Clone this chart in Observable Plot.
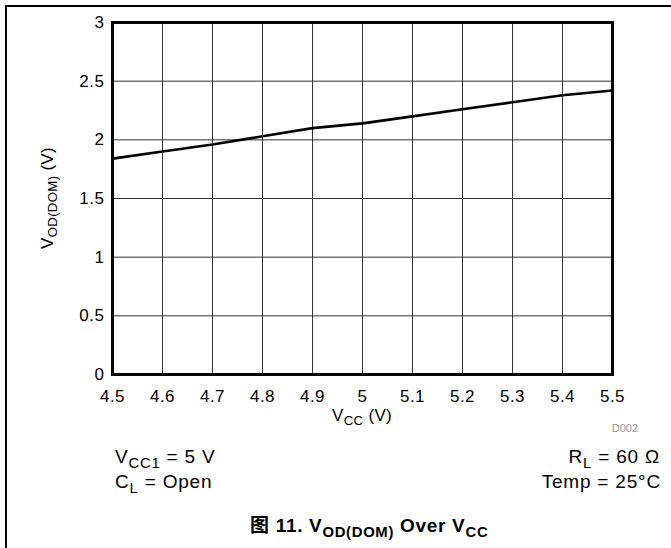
<!DOCTYPE html>
<html><head><meta charset="utf-8">
<script src="https://cdn.jsdelivr.net/npm/d3@7"></script>
<script src="https://cdn.jsdelivr.net/npm/@observablehq/plot@0.6"></script>
<style>
body{margin:0;background:#fff;font-family:"Liberation Sans",Arial,sans-serif;}
#wrap{position:relative;width:671px;height:548px;overflow:hidden;background:#fff;}
.frame{position:absolute;left:5px;top:5px;width:700px;height:600px;border-top:2px solid #000;border-left:2px solid #000;}
.t{position:absolute;line-height:1;white-space:nowrap;color:#000;}
.s{font-size:0.78em;position:relative;top:0.32em;line-height:0;}
#chart{position:absolute;left:0;top:0;}
#chart text{letter-spacing:0.5px;}
</style></head>
<body>
<div id="wrap">
  <div class="frame"></div>
  <div id="chart"></div>
  <div class="t" id="ylab" style="font-size:17px;left:47px;top:198px;transform:translate(-50%,-50%) rotate(-90deg);letter-spacing:0.3px;">V<span class="s">OD(DOM)</span> (V)</div>
  <div class="t" style="font-size:17px;left:362px;top:407px;transform:translateX(-50%);letter-spacing:0.3px;">V<span class="s">CC</span> (V)</div>
  <div class="t" style="font-size:11px;right:33px;top:423px;color:#999;">D002</div>
  <div class="t" style="font-size:19px;left:115px;top:447px;letter-spacing:0.8px;">V<span class="s">CC1</span> = 5 V</div>
  <div class="t" style="font-size:19px;left:115px;top:472px;letter-spacing:0.8px;">C<span class="s">L</span> = Open</div>
  <div class="t" style="font-size:19px;right:11px;top:447px;letter-spacing:0.8px;">R<span class="s">L</span> = 60 Ω</div>
  <div class="t" style="font-size:19px;right:10px;top:472px;letter-spacing:0.8px;">Temp = 25°C</div>
  <div class="t" style="font-size:19px;font-weight:bold;left:250px;top:516px;letter-spacing:0.7px;font-family:'Liberation Sans','Noto Sans CJK SC',sans-serif;">图 11. V<span class="s">OD(DOM)</span> Over V<span class="s">CC</span></div>
</div>
<script>
const vcc = [4.5, 4.6, 4.7, 4.8, 4.9, 5.0, 5.1, 5.2, 5.3, 5.4, 5.5];
const vod = [1.84, 1.90, 1.96, 2.03, 2.10, 2.14, 2.20, 2.26, 2.32, 2.38, 2.42];
const xTicks = [4.5, 4.6, 4.7, 4.8, 4.9, 5.0, 5.1, 5.2, 5.3, 5.4, 5.5];
const yTicks = [0, 0.5, 1, 1.5, 2, 2.5, 3];

const data = vcc.map((x, i) => ({x, y: vod[i]}));
const fmt = d => String(+(+d).toFixed(1));

const chart = Plot.plot({
  width: 671,
  height: 420,
  marginLeft: 112,
  marginRight: 59,
  marginTop: 22,
  marginBottom: 46,
  style: {fontFamily: "Liberation Sans, Arial, sans-serif", fontSize: "17px", background: "transparent", color: "#000"},
  x: {domain: [4.5, 5.5]},
  y: {domain: [0, 3]},
  marks: [
    Plot.ruleX(xTicks, {stroke: "#333", strokeWidth: 1}),
    Plot.ruleY(yTicks, {stroke: "#333", strokeWidth: 1}),
    Plot.line(data, {x: "x", y: "y", stroke: "#000", strokeWidth: 2.6}),
    Plot.frame({stroke: "#000", strokeWidth: 3}),
    Plot.axisX({ticks: xTicks, tickSize: 0, tickPadding: 15, fontSize: 17, tickFormat: fmt, label: null}),
    Plot.axisY({ticks: yTicks, tickSize: 0, tickPadding: 8, fontSize: 17, tickFormat: fmt, label: null})
  ]
});
document.getElementById("chart").appendChild(chart);
</script>
</body></html>
